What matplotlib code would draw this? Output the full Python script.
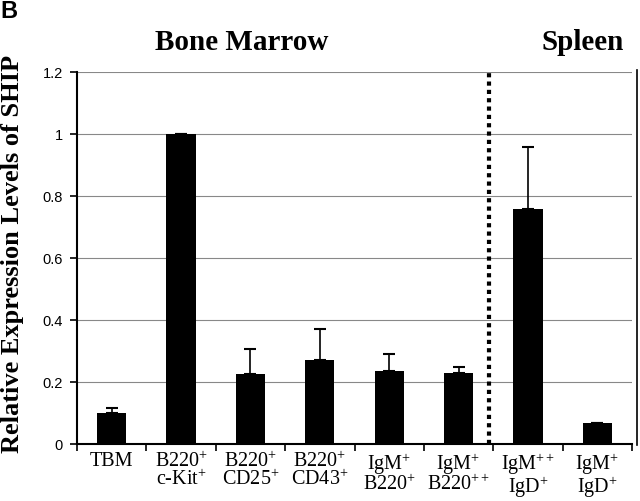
import matplotlib
matplotlib.use("Agg")
import matplotlib.pyplot as plt
from matplotlib.lines import Line2D
import numpy as np

categories = ["TBM",
              "B220$^{+}$\nc-Kit$^{+}$",
              "B220$^{+}$\nCD25$^{+}$",
              "B220$^{+}$\nCD43$^{+}$",
              "IgM$^{+}$\nB220$^{+}$",
              "IgM$^{+}$\nB220$^{++}$",
              "IgM$^{++}$\nIgD$^{+}$",
              "IgM$^{+}$\nIgD$^{+}$"]
values = [0.10, 1.0, 0.225, 0.27, 0.235, 0.228, 0.757, 0.068]
errors = [0.015, 0.0, 0.08, 0.10, 0.055, 0.022, 0.202, 0.0]
yticks = [0, 0.2, 0.4, 0.6, 0.8, 1, 1.2]
ytick_labels = ["0", "0.2", "0.4", "0.6", "0.8", "1", "1.2"]

plt.rcParams['mathtext.fontset'] = 'custom'
plt.rcParams['mathtext.rm'] = 'Liberation Serif'
plt.rcParams['mathtext.it'] = 'Liberation Serif:italic'
plt.rcParams['mathtext.bf'] = 'Liberation Serif:bold'

fig = plt.figure(figsize=(6.4, 5.01), dpi=100)
ax = fig.add_axes([77/640, 1-444/501, (632-77)/640, (444-72)/501])

x = np.arange(len(values))
ax.bar(x, values, width=0.42, color="black", zorder=3)
ax.errorbar(x, values, yerr=[np.zeros(len(errors)), errors], fmt="none",
            ecolor="black", elinewidth=1.2, capsize=4, capthick=1.5, zorder=4)

ax.set_xlim(-0.5, 7.5)
ax.set_ylim(0, 1.2)
ax.set_yticks(yticks)
ax.set_yticklabels(ytick_labels, fontfamily="Liberation Sans", fontsize=10.5)
ax.yaxis.grid(True, color="#888888", linewidth=0.8, zorder=0)
ax.set_axisbelow(True)

ax.set_xticks(np.arange(-0.5, 8.0, 1.0), minor=False)
ax.set_xticklabels([])
ax.set_xticks(x, minor=True)
ax.set_xticklabels(categories, minor=True, fontfamily="Liberation Serif",
                   fontsize=14.5, linespacing=0.85, va="top")
ax.tick_params(axis="x", which="minor", length=0, pad=6)
ax.tick_params(axis="x", which="major", direction="out", length=5, width=1.2)
ax.tick_params(axis="y", direction="out", length=5, width=1.2, pad=5)

for s in ["top", "right"]:
    ax.spines[s].set_visible(False)
ax.spines["left"].set_linewidth(1.5)
ax.spines["bottom"].set_linewidth(1.5)

ax.axvline(5.44, color="black", linewidth=3, linestyle=(0, (1, 1)), zorder=5)

ax.set_ylabel("Relative Expression Levels of SHIP", fontfamily="Liberation Serif",
              fontweight="bold", fontsize=19, va="center", ha="center")
ax.yaxis.set_label_coords((12.5 - 77) / 555, (444 - 254) / 372)

fig.add_artist(Line2D([637/640, 637/640], [1-445/501, 1-70/501],
                      color="black", linewidth=1.2))

fig.text(242/640, 1-43/501, "Bone Marrow", fontfamily="Liberation Serif",
         fontweight="bold", fontsize=21, ha="center", va="center")
fig.text(583/640, 1-43/501, "Spleen", fontfamily="Liberation Serif",
         fontweight="bold", fontsize=21, ha="center", va="center")
fig.text(0/640, 1-11/501, "B", fontfamily="Liberation Sans",
         fontweight="bold", fontsize=17, ha="left", va="center")

fig.savefig("out.png", dpi=100)
